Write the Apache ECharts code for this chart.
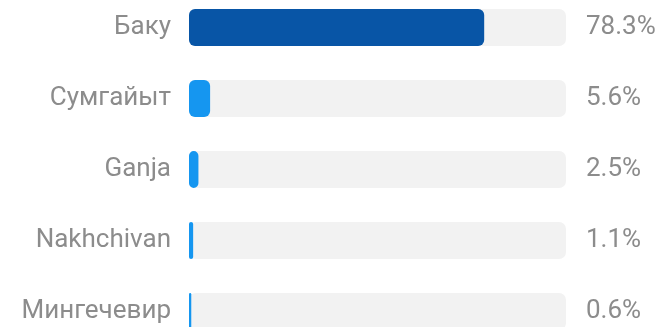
<!DOCTYPE html>
<html>
<head>
<meta charset="utf-8">
<style>
  html, body { margin: 0; padding: 0; background: #ffffff; }
  #chart { width: 664px; height: 327px; }
</style>
<script src="https://cdn.jsdelivr.net/npm/echarts@6/dist/echarts.min.js"></script>
</head>
<body>
<div id="chart"></div>
<script>
// Share of users by city, percent
const cities = ['Баку', 'Сумгайыт', 'Ganja', 'Nakhchivan', 'Мингечевир'];
const shares = [78.3, 5.6, 2.5, 1.1, 0.6];
const barColors = ['#0855a6', '#1596f0', '#1596f0', '#1596f0', '#1596f0'];
const scaleMax = 100;

const chart = echarts.init(document.getElementById('chart'), null, { renderer: 'canvas' });

const textColor = '#8c8c8c';
const fontFamily = 'Roboto, sans-serif';

chart.setOption({
  animation: false,
  backgroundColor: '#ffffff',
  // rows sit on the category points, so the grid spans first to last row centre
  grid: { left: 189, right: 98, top: 27.5, bottom: 15.5, containLabel: false },
  xAxis: {
    type: 'value',
    min: 0,
    max: scaleMax,
    show: false
  },
  yAxis: {
    type: 'category',
    data: cities,
    inverse: true,
    boundaryGap: false,
    axisLine: { show: false },
    axisTick: { show: false },
    splitLine: { show: false },
    axisLabel: {
      color: textColor,
      fontSize: 26,
      fontFamily: fontFamily,
      margin: 18
    }
  },
  series: [
    {
      // grey track behind each bar, carrying the percentage label at its end
      type: 'bar',
      data: cities.map(() => scaleMax),
      barWidth: 37,
      silent: true,
      itemStyle: { color: '#f2f2f2', borderRadius: 7 },
      label: {
        show: true,
        position: 'right',
        distance: 20,
        color: textColor,
        fontSize: 26,
        fontFamily: fontFamily,
        formatter: (p) => shares[p.dataIndex].toFixed(1) + '%'
      },
      z: 1
    },
    {
      type: 'bar',
      data: shares.map((v, i) => ({ value: v, itemStyle: { color: barColors[i] } })),
      barWidth: 37,
      barGap: '-100%',
      itemStyle: { borderRadius: 6 },
      z: 2
    }
  ]
});
</script>
</body>
</html>
